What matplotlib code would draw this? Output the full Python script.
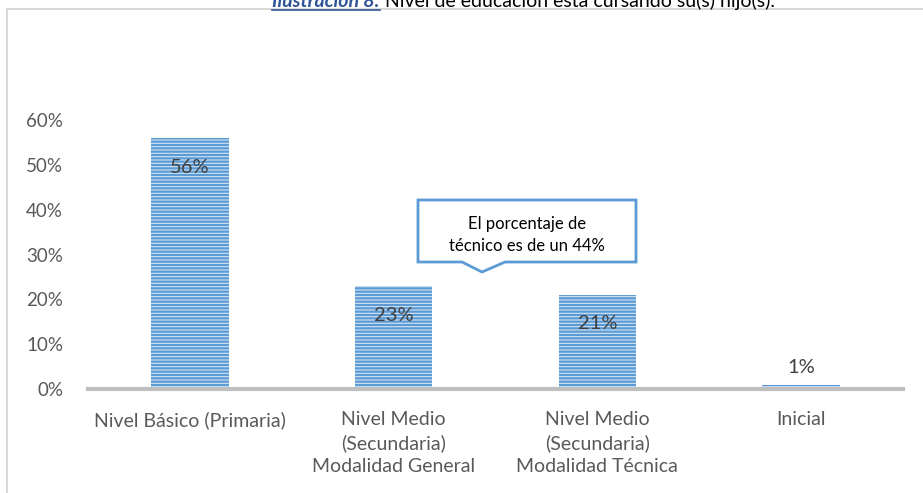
import matplotlib
matplotlib.use("Agg")
import matplotlib.pyplot as plt
from matplotlib.patches import Polygon
from matplotlib.lines import Line2D

categories = ["Nivel Básico (Primaria)",
              "Nivel Medio\n(Secundaria)\nModalidad General",
              "Nivel Medio\n(Secundaria)\nModalidad Técnica",
              "Inicial"]
values = [56, 23, 21, 1]
yticks = [0, 10, 20, 30, 40, 50, 60]
title_tag = "Ilustración 8:"
title_text = " Nivel de educación está cursando su(s) hijo(s)."
callout = "El porcentaje de\ntécnico es de un 44%"

plt.rcParams['font.family'] = ['Lato', 'DejaVu Sans']
plt.rcParams['hatch.linewidth'] = 1.6

W, H = 923, 493
fig = plt.figure(figsize=(W / 100, H / 100), dpi=100)
ax = fig.add_axes([88 / W, 1 - 389 / H, (903 - 88) / W, (389 - 120) / H])

x = list(range(len(values)))
bars = ax.bar(x, values, width=0.38, color="#d3e3f4", edgecolor="#5b9bd5",
              linewidth=0, hatch="-----", zorder=2)

for xi, v in zip(x, values):
    if v > 5:
        ax.text(xi, v - 6.5, f"{v}%", ha="center", va="center",
                fontsize=14.5, color="#404040", zorder=3)
    else:
        ax.text(xi, v + 3.8, f"{v}%", ha="center", va="center",
                fontsize=14.5, color="#404040", zorder=3)

ax.set_xlim(-0.5, len(values) - 0.5)
ax.set_ylim(0, 60)
ax.set_yticks(yticks)
ax.set_yticklabels([f"{t}%" for t in yticks], fontsize=13.5, color="#595959")
ax.set_xticks(x)
ax.set_xticklabels(categories, fontsize=14, color="#595959", linespacing=1.42,
                   va="top")
ax.tick_params(axis="both", length=0)
ax.tick_params(axis="y", pad=18)
ax.tick_params(axis="x", pad=16)
for s in ["top", "right", "left"]:
    ax.spines[s].set_visible(False)
ax.spines["bottom"].set_color("#bfbfbf")
ax.spines["bottom"].set_linewidth(3)
ax.spines["bottom"].set_zorder(4)

# outer frame of the chart area (top and left edges)
def px(xp, yp):
    return xp / W, 1 - yp / H

frame_col = "#d9d9d9"
for (x0, y0), (x1, y1) in [((7, 9), (923, 9)), ((7, 9), (7, 495))]:
    a, b = px(x0, y0)
    c, d = px(x1, y1)
    fig.add_artist(Line2D([a, c], [b, d], color=frame_col, lw=1.5, transform=fig.transFigure))

# callout box with pointer
pts = [(418, 200), (636, 200), (636, 262), (505, 262), (482, 272), (462, 262), (418, 262)]
fig.add_artist(Polygon([px(*p) for p in pts], closed=True, facecolor="white",
                       edgecolor="#5b9bd5", lw=2, transform=fig.transFigure, zorder=5))
cx, cy = px(527, 235)
fig.text(cx, cy, callout, ha="center", va="center", fontsize=12, color="#000000",
         linespacing=1.45, zorder=6)

# title, partly above the top edge
tx, ty = px(272, 7)
t1 = fig.text(tx, ty, title_tag, fontsize=14, fontweight="bold", fontstyle="italic",
              color="#2f5496", va="baseline", ha="left")
fig.canvas.draw()
bb = t1.get_window_extent()
fig.text(bb.x1 / W, ty, title_text, fontsize=14, color="#000000", va="baseline", ha="left")
uy = ty - 3 / H
fig.add_artist(Line2D([bb.x0 / W, bb.x1 / W], [uy, uy], color="#2f5496", lw=1.2,
                      transform=fig.transFigure))

fig.savefig("out.png", dpi=100)
